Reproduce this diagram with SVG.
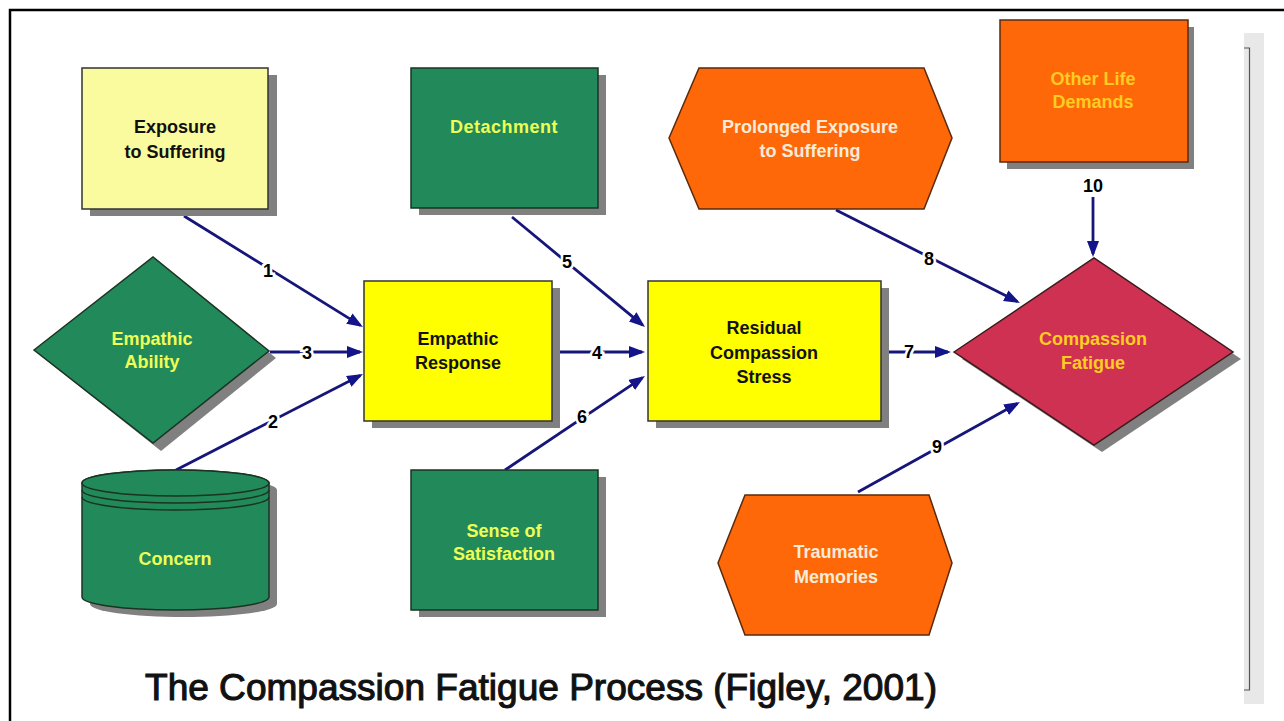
<svg xmlns="http://www.w3.org/2000/svg" width="1284" height="721" viewBox="0 0 1284 721">
<style>
.t{font-family:"Liberation Sans",Arial,sans-serif;font-weight:bold;font-size:18px;text-anchor:middle}
.dk{fill:#111}
.gy{fill:#eeff55}
.cr{fill:#f8ecd8}
.oy{fill:#ffcc22}
.sh{fill:#808080}
.ln{stroke:#16167a;stroke-width:2.8;fill:none}
.num{font-family:"Liberation Sans",Arial,sans-serif;font-weight:bold;font-size:18px;text-anchor:middle;fill:#000;stroke:#fff;stroke-width:5;paint-order:stroke}
.green{fill:#21895a;stroke:#1b3322;stroke-width:1.5}
.yel{fill:#ffff00;stroke:#333;stroke-width:1.5}
.lyel{fill:#fafa9e;stroke:#333;stroke-width:1.5}
.org{fill:#ff6808;stroke:#5a2a0a;stroke-width:1.5}
.red{fill:#cf3152;stroke:#3a1a1a;stroke-width:1.5}
.title{font-family:"Liberation Sans",Arial,sans-serif;font-size:36.5px;fill:#111;stroke:#111;stroke-width:1.1}
</style>
<defs>
<marker id="arr" markerUnits="userSpaceOnUse" markerWidth="16" markerHeight="12" viewBox="0 0 16 12" refX="13" refY="6" orient="auto">
<path d="M0,0 L16,6 L0,12 z" fill="#14148a"/>
</marker>
</defs>
<rect width="1284" height="721" fill="#fff"/>
<rect x="10" y="10" width="1300" height="730" fill="none" stroke="#000" stroke-width="2.5"/>
<g id="side-panel">
<rect x="1244" y="33" width="20" height="671" fill="#e8e8e8"/>
<path d="M1244,48 H1249.5 V690 H1244" fill="none" stroke="#555" stroke-width="1.2"/>
</g>

<g id="connectors">
<line class="ln" x1="184" y1="216" x2="360.4" y2="325.4" marker-end="url(#arr)"/>
<line class="ln" x1="270" y1="352" x2="360" y2="352" marker-end="url(#arr)"/>
<line class="ln" x1="176" y1="470" x2="360.3" y2="375.4" marker-end="url(#arr)"/>
<line class="ln" x1="559" y1="352" x2="642" y2="352" marker-end="url(#arr)"/>
<line class="ln" x1="512" y1="217" x2="642.7" y2="325.1" marker-end="url(#arr)"/>
<line class="ln" x1="505" y1="470" x2="642.5" y2="377.7" marker-end="url(#arr)"/>
<line class="ln" x1="888" y1="352" x2="948" y2="352" marker-end="url(#arr)"/>
<line class="ln" x1="836" y1="210" x2="1017.3" y2="301.6" marker-end="url(#arr)"/>
<line class="ln" x1="858" y1="492" x2="1017.4" y2="403.5" marker-end="url(#arr)"/>
<line class="ln" x1="1093" y1="197" x2="1093" y2="254" marker-end="url(#arr)"/>
<text class="num" x="268" y="277">1</text>
<text class="num" x="273" y="428">2</text>
<text class="num" x="307" y="359">3</text>
<text class="num" x="597" y="359">4</text>
<text class="num" x="567" y="268">5</text>
<text class="num" x="582" y="423">6</text>
<text class="num" x="909" y="358">7</text>
<text class="num" x="929" y="265">8</text>
<text class="num" x="937" y="453">9</text>
<text class="num" x="1093" y="192">10</text>
</g>

<g id="exposure">
<rect class="sh" x="90" y="75" width="187" height="141"/>
<rect class="lyel" x="82" y="68" width="186" height="141"/>
<text class="t dk" x="175" y="133">Exposure</text>
<text class="t dk" x="175" y="158">to Suffering</text>
</g>

<g id="empathic-ability">
<polygon class="sh" points="41,356 161,265 276,358 161,451"/>
<polygon class="green" points="34,350 153,257 269,351 153,443"/>
<text class="t gy" x="152" y="345">Empathic</text>
<text class="t gy" x="152" y="368">Ability</text>
</g>

<g id="concern">
<path class="sh" d="M90,490 V604 A93.5,13 0 0 0 277,604 V490 A93.5,13 0 0 0 90,490 z"/>
<path class="green" d="M82,483 V597 A93.5,13 0 0 0 269,597 V483 A93.5,13 0 0 0 82,483 z"/>
<ellipse cx="175.5" cy="483" rx="93.5" ry="13" fill="#21895a" stroke="#1b3322" stroke-width="1.5"/>
<path d="M82,490 A93.5,13 0 0 0 269,490 M82,497 A93.5,13 0 0 0 269,497" fill="none" stroke="#1b3322" stroke-width="1.5"/>
<text class="t gy" x="175" y="565">Concern</text>
</g>

<g id="empathic-response">
<rect class="sh" x="372" y="288" width="188" height="140"/>
<rect class="yel" x="364" y="281" width="188" height="140"/>
<text class="t dk" x="458" y="345">Empathic</text>
<text class="t dk" x="458" y="369">Response</text>
</g>

<g id="detachment">
<rect class="sh" x="419" y="75" width="187" height="140"/>
<rect class="green" x="411" y="68" width="187" height="140"/>
<text class="t gy" x="504" y="133" letter-spacing="0.5">Detachment</text>
</g>

<g id="sense-of-satisfaction">
<rect class="sh" x="419" y="477" width="187" height="140"/>
<rect class="green" x="411" y="470" width="187" height="140"/>
<text class="t gy" x="504" y="537">Sense of</text>
<text class="t gy" x="504" y="560">Satisfaction</text>
</g>

<g id="residual-compassion-stress">
<rect class="sh" x="656" y="288" width="233" height="140"/>
<rect class="yel" x="648" y="281" width="233" height="140"/>
<text class="t dk" x="764" y="334">Residual</text>
<text class="t dk" x="764" y="359">Compassion</text>
<text class="t dk" x="764" y="383">Stress</text>
</g>

<g id="prolonged-exposure">
<polygon class="org" points="669,138 699,68 924,68 952,138 924,209 699,209"/>
<text class="t cr" x="810" y="133">Prolonged Exposure</text>
<text class="t cr" x="810" y="157">to Suffering</text>
</g>

<g id="other-life-demands">
<rect class="sh" x="1007" y="27" width="187" height="142"/>
<rect class="org" x="1000" y="20" width="188" height="142"/>
<text class="t oy" x="1093" y="85">Other Life</text>
<text class="t oy" x="1093" y="108">Demands</text>
</g>

<g id="compassion-fatigue">
<polygon class="sh" points="962,359 1102,265 1241,359 1102,452"/>
<polygon class="red" points="954,352 1094,258 1233,352 1094,445"/>
<text class="t oy" x="1093" y="345">Compassion</text>
<text class="t oy" x="1093" y="369">Fatigue</text>
</g>

<g id="traumatic-memories">
<polygon class="org" points="718,563 745,495 929,495 952,563 929,635 745,635"/>
<text class="t cr" x="836" y="558">Traumatic</text>
<text class="t cr" x="836" y="583">Memories</text>
</g>

<text class="title" x="145" y="700" textLength="792" lengthAdjust="spacingAndGlyphs">The Compassion Fatigue Process (Figley, 2001)</text>
</svg>
